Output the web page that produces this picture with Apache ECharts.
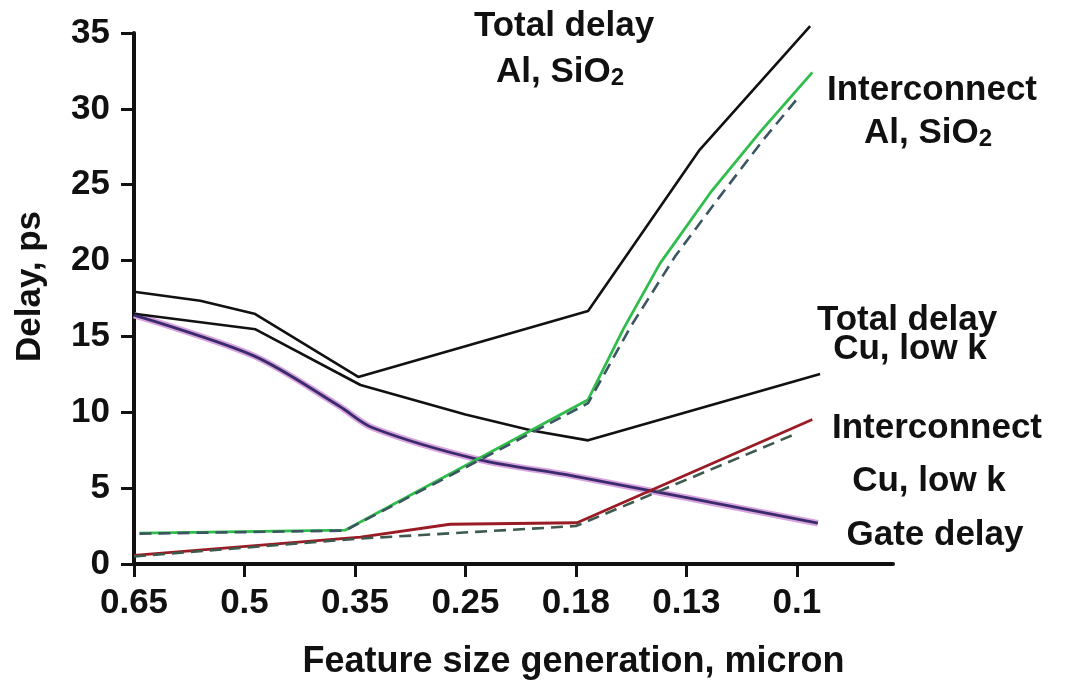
<!DOCTYPE html>
<html>
<head>
<meta charset="utf-8">
<script src="https://cdn.jsdelivr.net/npm/echarts@6/dist/echarts.min.js"></script>
<style>
html,body{margin:0;padding:0;background:#fff;}
#chart{width:1067px;height:685px;}
</style>
</head>
<body>
<div id="chart"></div>
<script>
// Category tick labels (feature size generation, micron), placed at positions 0..6
const categories = ['0.65', '0.5', '0.35', '0.25', '0.18', '0.13', '0.1'];
const categoryPositions = [0, 1, 2, 3, 4, 5, 6];

// Series: [position on category scale, delay in ps]
const totalDelayAlSiO2 = [[0, 17.95], [0.6, 17.35], [1.09, 16.5], [2.03, 12.33], [4.11, 16.68], [5.12, 27.3], [6.12, 35.45]];
const totalDelayCuLowK = [[0, 16.5], [1.1, 15.47], [2.05, 11.8], [3.0, 9.85], [3.6, 8.8], [4.11, 8.15], [6.21, 12.52]];
const gateDelay = [[0, 16.4], [1.09, 13.7], [1.86, 10.4], [2.16, 8.98], [3.11, 6.9], [3.97, 5.81], [6.19, 2.69]];
const interconnectAlSiO2 = [[0.05, 2.03], [1.91, 2.23], [4.11, 10.83], [4.43, 15.5], [4.76, 19.8], [5.23, 24.6], [5.67, 28.5], [6.14, 32.4]];
const interconnectAlSiO2Dashed = [[0.05, 2.0], [1.91, 2.2], [4.11, 10.6], [4.5, 15.7], [4.9, 20.3], [5.3, 24.2], [5.7, 28.0], [6.03, 30.9]];
const interconnectCuLowK = [[0, 0.57], [2.05, 1.77], [2.86, 2.62], [4.01, 2.72], [6.14, 9.52]];
const interconnectCuLowKDashed = [[0, 0.5], [2.05, 1.68], [3.1, 2.12], [4.0, 2.5], [5.98, 8.55]];

const FONT = '"Liberation Sans", Arial, Helvetica, sans-serif';
const chart = echarts.init(document.getElementById('chart'));

function label(text, x, y) {
  return {
    type: 'text', x: x, y: y, z: 100,
    style: {
      text: text, fill: '#111', font: 'bold 35px ' + FONT,
      align: 'center', verticalAlign: 'middle',
      textAlign: 'center', textVerticalAlign: 'middle'
    }
  };
}
function subLabel(main, sub, x, y) {
  return {
    type: 'text', x: x, y: y, z: 100,
    style: {
      text: '{a|' + main + '}{s|' + sub + '}',
      align: 'center', verticalAlign: 'middle',
      textAlign: 'center', textVerticalAlign: 'middle',
      rich: {
        a: { fontSize: 35, fontWeight: 'bold', fontFamily: FONT, fill: '#111', lineHeight: 36 },
        s: { fontSize: 24, fontWeight: 'bold', fontFamily: FONT, fill: '#111', lineHeight: 23, verticalAlign: 'bottom' }
      }
    }
  };
}

const line = (name, data, color, width, extra) => Object.assign({
  name: name, type: 'line', data: data, symbol: 'none', showSymbol: false, clip: false,
  lineStyle: { color: color, width: width }, itemStyle: { color: color },
  emphasis: { disabled: true }
}, extra || {});

chart.setOption({
  animation: false,
  backgroundColor: '#fff',
  grid: { left: 134, right: 174, top: 33, bottom: 118 },
  xAxis: {
    type: 'value', min: 0, max: 6.87, interval: 1,
    name: 'Feature size generation, micron', nameLocation: 'middle', nameGap: 80,
    nameTextStyle: { fontSize: 36, fontWeight: 'bold', fontFamily: FONT, color: '#111', padding: [0, 0, 0, 120] },
    axisLine: { show: true, onZero: false, lineStyle: { color: '#111', width: 4 } },
    axisTick: { show: true, inside: false, length: 13, lineStyle: { color: '#111', width: 3 }, customValues: categoryPositions },
    axisLabel: {
      margin: 22, fontSize: 35, fontWeight: 'bold', fontFamily: FONT, color: '#111',
      customValues: categoryPositions,
      formatter: v => categories[Math.round(v)]
    },
    splitLine: { show: false }
  },
  yAxis: {
    type: 'value', min: 0, max: 35, interval: 5,
    name: 'Delay, ps', nameLocation: 'middle', nameGap: 86,
    nameTextStyle: { fontSize: 35, fontWeight: 'bold', fontFamily: FONT, color: '#111', padding: [0, 0, 0, 24] },
    axisLine: { show: true, onZero: false, lineStyle: { color: '#111', width: 4 } },
    axisTick: { show: true, inside: false, length: 13, lineStyle: { color: '#111', width: 3 } },
    axisLabel: { margin: 24, fontSize: 35, fontWeight: 'bold', fontFamily: FONT, color: '#111' },
    splitLine: { show: false }
  },
  series: [
    line('Total delay Al, SiO2', totalDelayAlSiO2, '#111111', 2.6),
    line('Total delay Cu, low k', totalDelayCuLowK, '#111111', 2.6),
    line('Gate delay halo', gateDelay, '#d9a3df', 6.5, { smooth: 0.3, z: 2 }),
    line('Gate delay', gateDelay, '#3a2c6c', 2.8, { smooth: 0.3, z: 3 }),
    line('Interconnect Al, SiO2', interconnectAlSiO2, '#2fbe4c', 2.8, { z: 4 }),
    line('Interconnect Al, SiO2 (dashed)', interconnectAlSiO2Dashed, '#3b5660', 2.6, { z: 5, lineStyle: { color: '#3b5660', width: 2.6, type: [12, 7] } }),
    line('Interconnect Cu, low k', interconnectCuLowK, '#9a1b24', 2.8, { z: 4 }),
    line('Interconnect Cu, low k (dashed)', interconnectCuLowKDashed, '#3d5a4c', 2.6, { z: 5, lineStyle: { color: '#3d5a4c', width: 2.6, type: [12, 7] } })
  ],
  graphic: [
    label('Total delay', 564, 26),
    subLabel('Al, SiO', '2', 560, 72),
    label('Interconnect', 932, 90),
    subLabel('Al, SiO', '2', 928, 133),
    label('Total delay', 907, 320),
    label('Cu, low k', 910, 349),
    label('Interconnect', 937, 428),
    label('Cu, low k', 929, 481),
    label('Gate delay', 935, 535)
  ]
});
</script>
</body>
</html>
